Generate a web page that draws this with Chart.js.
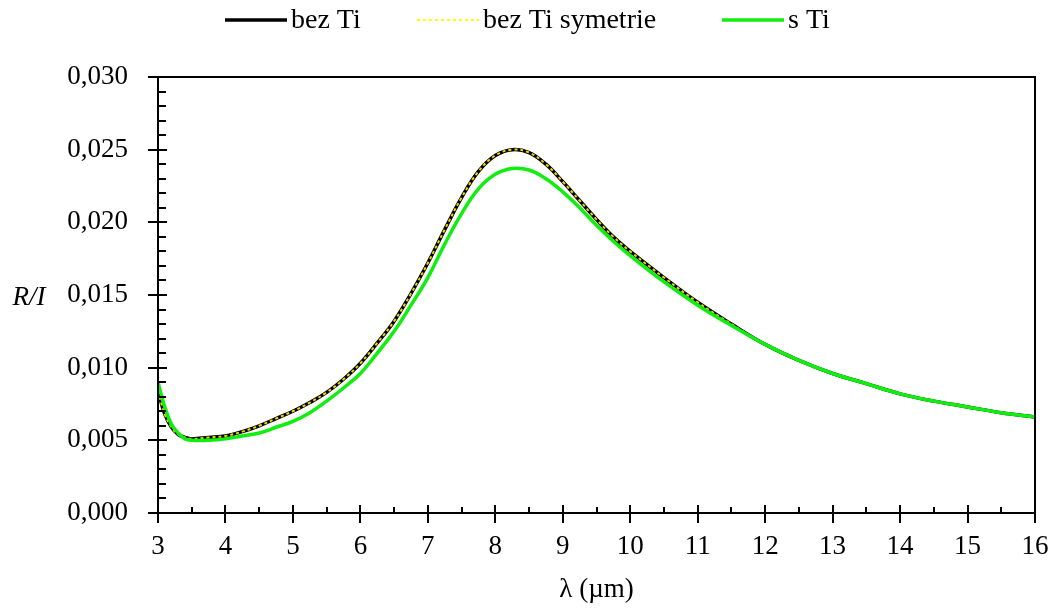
<!DOCTYPE html>
<html>
<head>
<meta charset="utf-8">
<script src="https://cdn.jsdelivr.net/npm/chart.js@4/dist/chart.umd.min.js"></script>
<style>
  html, body { margin: 0; padding: 0; background: #fff; }
  canvas { display: block; }
</style>
</head>
<body>
<canvas id="chart" width="1052" height="610"></canvas>
<script>
// --- data ---
const wavelengths = [3.0, 3.1, 3.2, 3.3, 3.4, 3.5, 3.75, 4.0, 4.25, 4.5, 4.75, 5.0, 5.25, 5.5, 5.75,
    6.0, 6.25, 6.5, 6.75, 7.0, 7.25, 7.5, 7.75, 8.0, 8.25, 8.5, 8.75, 9.0, 9.25, 9.5, 9.75,
    10.0, 10.5, 11.0, 11.5, 12.0, 12.5, 13.0, 13.5, 14.0, 14.5, 15.0, 15.5, 16.0];

const bezTi = [0.0084, 0.0068, 0.0059, 0.0054, 0.0052, 0.0051, 0.0052, 0.0053, 0.0056, 0.0060, 0.0065, 0.0070, 0.0076, 0.0083, 0.0092,
    0.0103, 0.0117, 0.0132, 0.0151, 0.0172, 0.0195, 0.0217, 0.0235, 0.0246, 0.0250, 0.0248, 0.0240, 0.0228, 0.0215, 0.0202, 0.0190,
    0.0180, 0.0162, 0.0145, 0.0130, 0.0116, 0.0105, 0.0096, 0.0089, 0.0082, 0.0077, 0.0073, 0.0069, 0.0066];

const bezTiSymetrie = [0.0084, 0.0068, 0.0059, 0.0054, 0.0052, 0.0051, 0.0052, 0.0053, 0.0056, 0.0060, 0.0065, 0.0070, 0.0076, 0.0083, 0.0092,
    0.0103, 0.0117, 0.0132, 0.0151, 0.0172, 0.0195, 0.0217, 0.0235, 0.0246, 0.0250, 0.0248, 0.0240, 0.0228, 0.0215, 0.0202, 0.0190,
    0.0180, 0.0162, 0.0145, 0.0130, 0.0116, 0.0105, 0.0096, 0.0089, 0.0082, 0.0077, 0.0073, 0.0069, 0.0066];

const sTi = [0.0090, 0.0073, 0.0061, 0.0055, 0.0051, 0.0050, 0.0050, 0.0051, 0.0053, 0.0055, 0.0059, 0.0063, 0.0069, 0.0077, 0.0086,
    0.0096, 0.0110, 0.0125, 0.0143, 0.0162, 0.0185, 0.0206, 0.0223, 0.0233, 0.0237, 0.0236, 0.0230, 0.0221, 0.0210, 0.0198, 0.0187,
    0.0177, 0.0159, 0.0143, 0.0129, 0.0116, 0.0105, 0.0096, 0.0089, 0.0082, 0.0077, 0.0073, 0.0069, 0.0066];

const seriesLabels = ['bez Ti', 'bez Ti symetrie', 's Ti'];
const xTitle = 'λ (µm)';
const yTitle = 'R/I';

const FONT = '"Liberation Serif", "Times New Roman", serif';

function toPoints(values) {
    return wavelengths.map((w, i) => ({ x: w, y: values[i] }));
}

// --- frame, crossing major ticks, inner minor ticks ---
const frameTicks = {
    id: 'frameTicks',
    afterDraw(chart) {
        const { ctx, chartArea: a, scales: { x, y } } = chart;
        ctx.save();
        ctx.strokeStyle = '#000';
        ctx.lineWidth = 2;
        ctx.strokeRect(a.left, a.top, a.right - a.left, a.bottom - a.top);

        ctx.beginPath();
        const xt = x.ticks.map(t => t.value);
        xt.forEach((v, i) => {
            const px = Math.round(x.getPixelForValue(v));
            ctx.moveTo(px, a.bottom - 8);
            ctx.lineTo(px, a.bottom + 10);
            if (i < xt.length - 1) {
                const mx = Math.round(x.getPixelForValue((v + xt[i + 1]) / 2));
                ctx.moveTo(mx, a.bottom - 6);
                ctx.lineTo(mx, a.bottom);
            }
        });
        const yt = y.ticks.map(t => t.value);
        yt.forEach((v, i) => {
            const py = Math.round(y.getPixelForValue(v));
            ctx.moveTo(a.left - 10, py);
            ctx.lineTo(a.left + 9, py);
            if (i < yt.length - 1) {
                const step = (yt[i + 1] - v) / 5;
                for (let k = 1; k < 5; k++) {
                    const my = Math.round(y.getPixelForValue(v + step * k));
                    ctx.moveTo(a.left, my);
                    ctx.lineTo(a.left + 8, my);
                }
            }
        });
        ctx.stroke();

        // horizontal italic y title
        ctx.fillStyle = '#000';
        ctx.font = 'italic 27px ' + FONT;
        ctx.textAlign = 'center';
        ctx.textBaseline = 'middle';
        ctx.fillText(yTitle, 29, (a.top + a.bottom) / 2 + 3);
        ctx.restore();
    }
};

// --- legend across the top ---
const topLegend = {
    id: 'topLegend',
    afterDraw(chart) {
        const { ctx } = chart;
        const starts = [225, 417, 722];
        const lineLen = 62;
        ctx.save();
        ctx.font = '28px ' + FONT;
        ctx.textBaseline = 'middle';
        ctx.textAlign = 'left';
        chart.data.datasets.forEach((ds, i) => {
            const x0 = starts[i];
            const yy = 20;
            ctx.strokeStyle = ds.legendColor || ds.borderColor;
            ctx.lineWidth = ds.borderWidth;
            ctx.setLineDash(ds.borderDash || []);
            ctx.beginPath();
            ctx.moveTo(x0, yy);
            ctx.lineTo(x0 + lineLen, yy);
            ctx.stroke();
            ctx.setLineDash([]);
            ctx.fillStyle = '#000';
            ctx.fillText(ds.label, x0 + lineLen + 4, yy + 1);
        });
        ctx.restore();
    }
};

new Chart(document.getElementById('chart'), {
    type: 'line',
    data: {
        datasets: [
            {
                label: seriesLabels[0],
                data: toPoints(bezTi),
                borderColor: '#000000',
                borderWidth: 3.5,
                pointRadius: 0,
                tension: 0.4,
                order: 2
            },
            {
                label: seriesLabels[1],
                data: toPoints(bezTiSymetrie),
                borderColor: '#e8d800',
                legendColor: '#ffff00',
                borderWidth: 2,
                borderDash: [3, 3],
                pointRadius: 0,
                tension: 0.4,
                order: 1
            },
            {
                label: seriesLabels[2],
                data: toPoints(sTi),
                borderColor: '#10ee10',
                borderWidth: 3.5,
                pointRadius: 0,
                tension: 0.4,
                order: 0
            }
        ]
    },
    options: {
        responsive: false,
        animation: false,
        devicePixelRatio: 1,
        layout: { padding: { top: 77, right: 17, left: 0, bottom: 0 } },
        plugins: {
            legend: { display: false },
            tooltip: { enabled: false }
        },
        scales: {
            x: {
                type: 'linear',
                min: 3,
                max: 16,
                ticks: { stepSize: 1, color: '#000', padding: 18, font: { family: FONT, size: 27 } },
                grid: { display: false, drawTicks: false },
                border: { display: false },
                title: {
                    display: true,
                    text: xTitle,
                    color: '#000',
                    font: { family: FONT, size: 27 },
                    padding: { top: 0, bottom: 4 }
                },
                afterFit(s) {
                    s.height = 97;
                    s.paddingLeft = 0;
                    s.paddingRight = 0;
                }
            },
            y: {
                min: 0,
                max: 0.03,
                ticks: {
                    stepSize: 0.005,
                    color: '#000',
                    padding: 30,
                    font: { family: FONT, size: 27 },
                    callback: v => v.toFixed(3).replace('.', ',')
                },
                grid: { display: false, drawTicks: false },
                border: { display: false },
                afterFit(s) {
                    s.width = 158;
                    s.paddingTop = 0;
                    s.paddingBottom = 0;
                }
            }
        }
    },
    plugins: [frameTicks, topLegend]
});
</script>
</body>
</html>
